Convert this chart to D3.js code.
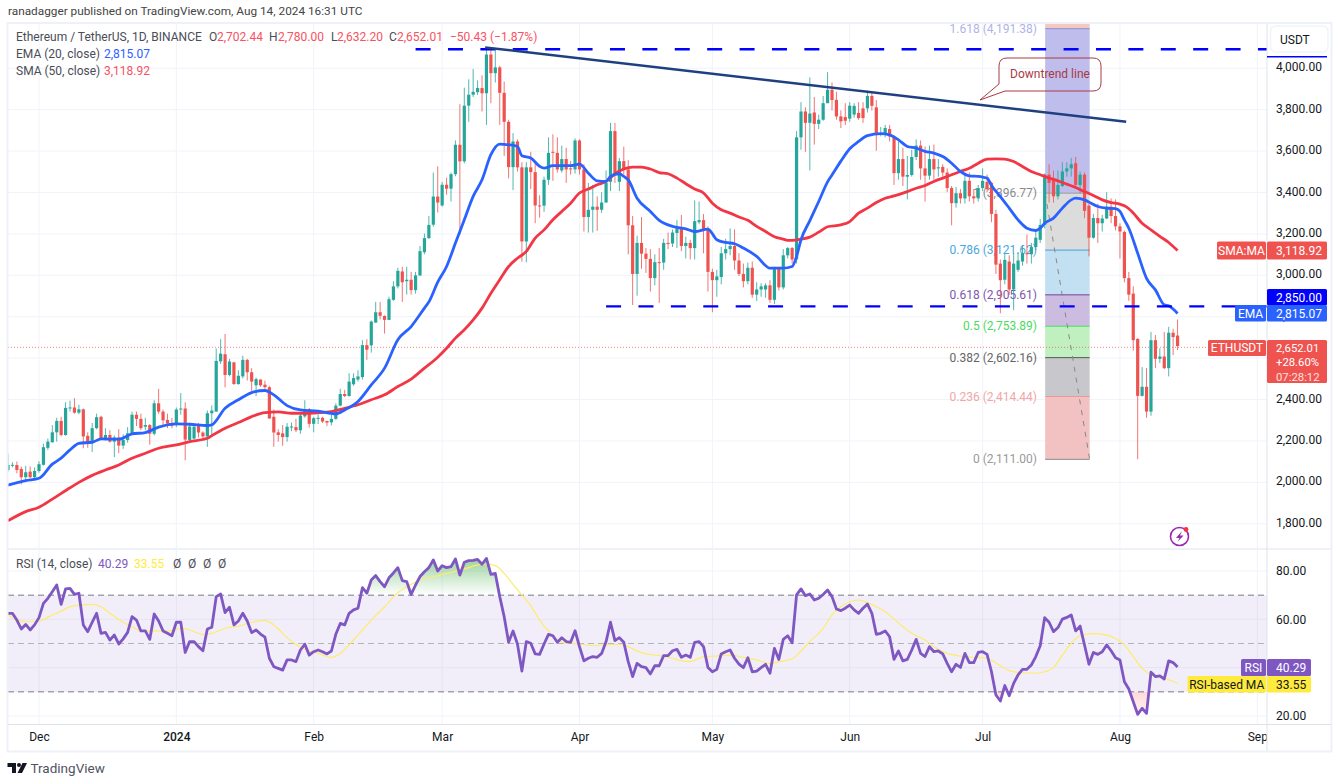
<!DOCTYPE html>
<html>
<head>
<meta charset="utf-8">
<title>ETHUSDT</title>
<script src="https://d3js.org/d3.v7.min.js"></script>
<style>
  html, body { margin: 0; padding: 0; background: #fff; }
  svg { display: block; }
  text { font-family: Roboto, sans-serif; }
</style>
</head>
<body>
<svg id="chart" width="1340" height="784"></svg>
<script>
// candles, one row per ten days, day 0 = 24 Nov 2023
const opens = [
  2053,2075,2077,2058,2018,2045,2018,2048,2078,2160,
  2187,2235,2290,2222,2352,2355,2330,2346,2218,2185,
  2255,2310,2206,2222,2190,2210,2171,2198,2230,2320,
  2300,2262,2270,2228,2375,2335,2295,2278,2270,2345,
  2350,2198,2205,2265,2234,2215,2327,2335,2578,2612,
  2512,2573,2468,2505,2585,2525,2462,2490,2465,2453,
  2310,2235,2230,2212,2260,2260,2245,2312,2345,2276,
  2300,2305,2290,2283,2300,2364,2420,2410,2467,2490,
  2502,2656,2655,2765,2815,2797,2778,2875,2940,3012,
  2965,2972,2922,2993,3105,3173,3238,3374,3331,3431,
  3412,3482,3624,3544,3813,3866,3878,3898,3873,4060,
  3970,3998,3875,3735,3516,3640,3515,3157,3515,3492,
  3331,3330,3455,3590,3585,3500,3555,3510,3505,3645,
  3505,3275,3310,3325,3310,3345,3445,3690,3445,3545,
  3505,3235,3000,3150,3098,3073,2980,3057,3055,3150,
  3147,3198,3220,3135,3150,3125,3250,3260,3215,3010,
  2970,2985,3100,3120,3135,3065,3000,2965,3030,2900,
  2925,2925,2945,2875,3030,2935,3090,3125,3070,3660,
  3785,3730,3780,3725,3745,3825,3890,3841,3761,3758,
  3750,3770,3778,3800,3800,3860,3805,3675,3672,3700,
  3664,3487,3555,3470,3478,3565,3620,3510,3475,3555,
  3510,3517,3490,3415,3342,3390,3365,3450,3375,3365,
  3415,3445,3440,3290,3050,2972,3060,2925,3020,3060,
  3100,3095,3130,3165,3237,3480,3460,3375,3425,3495,
  3510,3535,3430,3480,3330,3175,3270,3245,3268,3325,
  3280,3230,3203,2980,2905,2686,2411,2455,2335,2680,
  2590,2601,2545,2716,2702.44
];
const highs = [
  2131,2090,2094,2070,2073,2070,2065,2095,2180,2205,
  2270,2305,2310,2380,2388,2400,2368,2350,2235,2280,
  2325,2315,2255,2245,2220,2250,2225,2260,2335,2335,
  2325,2305,2275,2390,2445,2345,2325,2305,2355,2425,
  2380,2275,2275,2280,2240,2340,2365,2640,2685,2710,
  2590,2575,2535,2605,2590,2545,2500,2490,2485,2460,
  2345,2250,2270,2280,2282,2300,2325,2390,2352,2310,
  2320,2310,2290,2330,2375,2445,2440,2520,2520,2535,
  2680,2685,2775,2865,2865,2800,2890,2965,3030,3035,
  3035,3010,3010,3135,3195,3280,3490,3520,3445,3465,
  3490,3645,3820,3900,3940,3990,3935,3960,4095,4085,
  4085,4005,3930,3745,3680,3650,3540,3540,3590,3535,
  3380,3470,3660,3675,3660,3620,3610,3545,3655,3650,
  3530,3440,3430,3375,3395,3500,3730,3730,3560,3615,
  3550,3280,3185,3275,3125,3120,3095,3125,3170,3200,
  3215,3260,3285,3180,3165,3355,3350,3290,3230,3025,
  3020,3130,3170,3220,3215,3100,3050,3055,3060,2960,
  2955,2955,2970,3035,3035,3120,3130,3130,3690,3830,
  3805,3950,3855,3770,3860,3975,3925,3880,3790,3825,
  3830,3825,3830,3830,3885,3875,3840,3710,3720,3720,
  3670,3640,3610,3570,3600,3650,3645,3615,3620,3625,
  3555,3530,3510,3425,3420,3410,3480,3490,3410,3430,
  3510,3480,3445,3310,3070,3100,3090,3100,3105,3140,
  3190,3150,3215,3265,3485,3530,3500,3500,3540,3540,
  3560,3565,3495,3490,3340,3290,3340,3285,3395,3365,
  3360,3245,3210,3010,2940,2690,2550,2545,2720,2705,
  2640,2720,2745,2735,2780
];
const lows = [
  2045,2066,2037,1984,1997,2013,2012,2040,2075,2150,
  2185,2190,2215,2218,2335,2325,2322,2158,2160,2140,
  2250,2200,2195,2185,2115,2135,2155,2185,2225,2265,
  2245,2245,2175,2220,2325,2260,2255,2255,2260,2320,
  2100,2185,2200,2210,2200,2165,2215,2335,2565,2452,
  2505,2465,2465,2495,2485,2435,2410,2455,2445,2300,
  2165,2190,2170,2190,2240,2236,2228,2305,2258,2235,
  2275,2280,2265,2268,2295,2360,2405,2408,2460,2480,
  2490,2585,2620,2765,2780,2712,2778,2870,2930,2865,
  2900,2900,2905,2990,3095,3170,3228,3297,3325,3382,
  3350,3472,3190,3535,3735,3855,3865,3785,3720,3825,
  3925,3720,3570,3462,3405,3495,3060,3056,3410,3245,
  3272,3300,3430,3450,3490,3490,3440,3480,3485,3480,
  3205,3200,3200,3208,3295,3345,3400,3440,3400,3480,
  3095,2850,2895,3025,3005,2915,2945,2860,3020,3120,
  3130,3125,3110,3075,3070,3070,3240,3100,2915,2815,
  2890,2950,3070,3090,3020,2990,2935,2950,2885,2870,
  2890,2885,2860,2855,2920,2925,3075,3050,3050,3600,
  3590,3500,3625,3700,3740,3825,3790,3745,3705,3720,
  3735,3755,3745,3730,3780,3790,3595,3665,3660,3640,
  3430,3455,3425,3360,3470,3550,3455,3350,3455,3455,
  3470,3470,3395,3235,3320,3340,3340,3350,3340,3350,
  3400,3395,3250,3000,2810,2950,2900,2825,3010,3040,
  3050,3050,3115,3150,3220,3345,3345,3360,3420,3470,
  3470,3420,3390,3270,3085,3170,3150,3205,3265,3245,
  3210,3075,2960,2870,2630,2105,2408,2305,2315,2545,
  2570,2540,2505,2608,2632.2
];
const closes = [
  2077,2078,2053,2018,2042,2018,2048,2081,2163,2190,
  2235,2290,2222,2353,2355,2330,2346,2215,2182,2255,
  2308,2206,2222,2190,2210,2171,2198,2230,2320,2300,
  2255,2270,2228,2375,2335,2293,2278,2266,2345,2350,
  2200,2263,2262,2234,2215,2327,2340,2580,2615,2512,
  2577,2468,2508,2585,2525,2480,2492,2462,2453,2302,
  2234,2222,2212,2262,2263,2245,2316,2345,2276,2303,
  2305,2287,2282,2300,2364,2420,2410,2480,2497,2505,
  2656,2634,2770,2815,2798,2778,2878,2940,3015,2960,
  2972,2922,2993,3110,3173,3237,3374,3345,3431,3412,
  3482,3624,3544,3813,3866,3880,3898,3873,4060,3970,
  3998,3875,3735,3516,3640,3515,3157,3515,3492,3331,
  3330,3455,3585,3585,3505,3555,3505,3505,3645,3505,
  3275,3310,3325,3310,3345,3440,3690,3485,3545,3505,
  3235,3000,3150,3098,3073,2980,3057,3055,3150,3145,
  3200,3220,3135,3150,3125,3255,3260,3215,3010,2970,
  2988,3100,3120,3135,3065,3000,2965,3030,2900,2925,
  2940,2945,2875,3030,2935,3090,3125,3070,3660,3785,
  3730,3775,3725,3745,3825,3890,3840,3761,3737,3740,
  3813,3812,3753,3753,3860,3812,3672,3680,3705,3664,
  3487,3555,3470,3478,3565,3620,3510,3475,3555,3505,
  3515,3490,3415,3342,3390,3365,3450,3375,3365,3415,
  3450,3410,3290,3045,2970,3068,2925,3050,3065,3100,
  3095,3130,3175,3237,3480,3440,3375,3430,3495,3510,
  3530,3430,3480,3305,3175,3270,3245,3268,3325,3280,
  3230,3205,2980,2900,2680,2411,2455,2335,2680,2590,
  2601,2545,2716,2695,2652.01
];

// moving averages, read at the days listed
const emaDays = [0,4,7,10,12,14,16,19,21,25,28,31,34,38,41,45,46,49,52,55,58,60,63,66,70,74,76,79,82,85,88,91,94,95,97,99,101,103,105,107,109,111,113,115,116,118,120,121,123,127,129,131,133,135,136,138,139,140,142,145,147,150,153,155,158,160,162,164,166,169,172,175,177,178,179,181,183,185,186,188,190,192,194,197,199,201,203,205,207,209,211,213,215,217,219,220,221,222,224,226,228,230,232,233,234,236,238,240,241,243,244,246,248,250,251,252,253,255,257,259,261,262,264];
const emaValues = [1980,2002,2013,2081,2110,2150,2182,2187,2203,2202,2227,2234,2260,2276,2274,2268,2271,2351,2392,2427,2437,2416,2364,2343,2337,2324,2343,2384,2464,2545,2682,2746,2835,2865,2960,3036,3149,3262,3375,3455,3576,3627,3624,3616,3571,3560,3520,3511,3523,3523,3531,3487,3450,3447,3471,3484,3471,3455,3366,3302,3259,3230,3218,3205,3217,3165,3152,3146,3125,3085,3028,3028,3036,3085,3165,3258,3350,3445,3478,3545,3605,3640,3668,3678,3672,3648,3616,3608,3592,3584,3567,3535,3495,3474,3471,3468,3463,3427,3374,3318,3261,3221,3210,3221,3245,3270,3318,3358,3366,3358,3347,3326,3318,3316,3302,3261,3221,3100,2979,2923,2851,2846,2809];
const smaDays = [0,4,7,10,14,16,19,22,25,28,31,34,38,41,45,46,49,52,55,58,61,64,68,72,76,79,82,85,88,91,94,97,99,101,103,105,107,109,111,113,115,117,119,121,123,125,127,129,131,133,135,137,139,141,143,145,147,149,151,153,155,157,159,161,163,165,167,169,171,173,175,176,177,179,181,183,185,188,190,192,194,196,198,200,203,205,207,209,211,213,215,217,219,221,223,225,227,229,231,233,235,237,239,241,243,245,247,249,251,252,253,254,256,258,260,262,264];
const smaValues = [1808,1852,1873,1912,1967,1993,2027,2053,2077,2110,2134,2158,2174,2190,2206,2219,2255,2282,2311,2330,2334,2327,2327,2332,2351,2368,2392,2416,2456,2492,2545,2598,2641,2690,2730,2778,2835,2907,2972,3036,3076,3109,3173,3213,3262,3302,3342,3391,3410,3431,3447,3484,3507,3516,3516,3507,3490,3484,3463,3436,3410,3391,3342,3310,3294,3275,3259,3230,3205,3180,3168,3162,3162,3168,3178,3202,3228,3237,3253,3294,3318,3345,3366,3377,3398,3414,3427,3447,3463,3479,3495,3511,3535,3555,3556,3555,3543,3519,3495,3479,3463,3450,3434,3418,3398,3379,3358,3345,3337,3329,3315,3294,3245,3213,3182,3152,3113];

// RSI, one value per day
const rsiValues = [
  62.5,62.5,59.7,56,57.9,55.6,57.7,60.7,66.6,68.7,
  71.4,74.2,66.2,72.6,72.8,70.3,70.8,57.7,54.9,58.8,
  62.5,54.2,54.6,51.4,53.5,49.8,51.9,54.6,61.1,59.7,
  55.2,55.2,51.7,62.2,59.3,55.2,54.2,53.2,58.8,58.8,
  46.3,50.8,50.8,48.7,47,56,56.7,69.4,70.5,62.8,
  65,57.7,59.3,62.5,59.3,54.5,55.6,53.9,52.6,43.9,
  40.4,39.7,39,43.2,43.2,42.5,47.3,49.7,45.2,46.6,
  47.3,46.6,45.7,46.9,53.8,58.3,57.7,62.5,63.9,64.6,
  73.1,70.8,76.3,78.1,75.6,73.5,77.2,79.2,81.4,76,
  75.6,70.3,74.2,77.7,79.7,81.4,84.6,80,82.2,81.4,
  81.8,85,78.3,83.6,84.3,84.4,84.8,82.8,85.2,78.6,
  79,69.4,61.1,50.5,55.2,49.8,38.6,50.8,50.1,45.7,
  45.5,49.8,53.8,53.2,50.5,52.4,50.8,50.5,55.3,48.7,
  42.8,43.9,44.6,44.3,45.9,50.8,58.8,51.2,52.4,50.5,
  42.5,36.3,41.8,40.4,40,37.4,40.8,40.8,45,45,
  47,47.6,44.3,45.2,44.3,50.5,50.8,48.7,40.1,38.3,
  39.3,45.7,46.6,47.3,43.9,41.5,40,44.1,38.3,38.6,
  40,41.4,37.7,48,43.4,51.7,53.2,50.3,70.1,72.6,
  69.8,70.5,68,68.7,70.3,72.1,69.4,64.3,63.6,64.6,
  65.9,63.9,62.5,64.6,66.3,62.5,53.8,54.2,55.2,52.8,
  43.4,46.9,42.8,43.4,47.3,51.7,45.9,44.6,48.7,46.6,
  46.9,45.7,41.8,38.3,41.4,40.1,45.9,42.1,42.1,46.3,
  46.6,45.5,38.3,28.7,26.2,32.6,28.4,33.5,37,39.3,
  39.3,41.1,44.6,49.1,60.7,58.8,54.9,56.6,60.1,60.8,
  61.8,55.2,57.2,49.4,41.4,46.3,45.5,46.6,49.4,47,
  44.1,43.2,34.2,31.2,25.9,20.7,23.2,21.1,38.1,36.3,
  36.6,35.3,42.8,42.1,40.29
];
const rsiMaDays = [0,4,7,10,12,14,16,19,21,23,26,28,30,34,37,39,41,44,46,49,52,55,58,60,62,64,67,70,73,75,77,79,82,85,88,91,94,97,100,103,106,108,110,112,114,116,118,120,122,124,126,129,132,135,138,140,142,144,147,150,152,154,157,160,163,166,169,172,175,177,179,181,184,186,188,190,192,194,196,198,200,202,204,207,209,212,215,218,221,224,226,229,232,234,236,238,240,242,245,248,250,252,254,256,258,261,264];
const rsiMaValues = [61.8,59,59.3,61.8,63.4,65.2,65.9,66.2,65.2,62.5,58.8,57,55.3,55.2,55.3,56.3,55.6,53.8,54.2,56.3,57.2,58.8,59.6,57.7,54.2,50.8,47.6,45.9,44.3,45.9,49.4,53.5,59.7,65.2,71,74.5,77,78.1,79.4,80.8,82.5,82.8,82.2,79,74.5,70,65.7,59.7,55.2,51.4,50.1,49.8,49.1,49.4,49.7,48.7,46.9,45.7,45,43.9,42.8,42.5,44.6,44.8,45.2,44.3,43.2,41.7,42.8,43.6,46.9,50.8,56.3,61.8,65.2,67.3,68,66.9,65.2,63.2,60.1,57,54.2,51.4,48.7,45.9,44.8,44.3,43.9,40.8,38.8,37.9,37.7,38.3,40,45.2,50.1,53.2,54.1,53.5,52.1,49.4,44.6,39.7,37,35.6,33.55];

// axes
const priceTicks = [1800,2000,2200,2400,2600,2800,3000,3200,3400,3600,3800,4000];
const rsiTicks = [20,40,60,80];
const monthDays = [7,38,69,98,129,159,190,220,251,282];
const monthLabels = ["Dec","2024","Feb","Mar","Apr","May","Jun","Jul","Aug","Sep"];

// fib levels and drawn lines
const fibRatios = ["1.618","1","0.786","0.618","0.5","0.382","0.236","0"];
const fibPrices = [4191.38,3396.77,3121.62,2905.61,2753.89,2602.16,2414.44,2111];
const fibDays = [234,244];
const resistance = 4092;
const support = 2850;
const resistanceStart = 92;
const supportStart = 135;
const trendDays = [107.7,252.4];
const trendPrices = [4101,3742];

const paneL = 8, paneR = 1267, priceTop = 24, priceBottom = 548.5;
const rsiTop = 550, rsiBottom = 724.5;
const upColor = "#26a69a", downColor = "#ef5350", blue = "#2962ff", purple = "#7e57c2";
const gridColor = "#f0f3fa", labelColor = "#131722";

const svg = d3.select("#chart");
const defs = svg.append("defs");

const x = d3.scaleLinear().domain([0, 282]).range([8, 1257.3]);
const y = d3.scaleLinear().domain([1800, 4000]).range([523.7, 68.3]);
const rsiY = d3.scaleLinear().domain([20, 80]).range([716, 571]);
const days = closes.map((d, i) => i);

// the candle and average readings came out about 6.5 low against the axis
const readBias = 6.5;
const markY = v => y(v + readBias);

defs.append("clipPath").attr("id", "pricePane").append("rect")
  .attr("x", paneL).attr("y", priceTop).attr("width", paneR - paneL).attr("height", priceBottom - priceTop);
defs.append("clipPath").attr("id", "above70").append("rect")
  .attr("x", paneL).attr("y", rsiTop).attr("width", paneR - paneL).attr("height", rsiY(70) - rsiTop);
defs.append("clipPath").attr("id", "below30").append("rect")
  .attr("x", paneL).attr("y", rsiY(30)).attr("width", paneR - paneL).attr("height", rsiBottom - rsiY(30));

// grid
const grid = svg.append("g").attr("stroke", gridColor).attr("stroke-width", 1);
grid.selectAll(".gx").data(monthDays).enter().append("line")
  .attr("x1", d => x(d)).attr("x2", d => x(d)).attr("y1", priceTop).attr("y2", rsiBottom);
grid.selectAll(".gy").data(priceTicks).enter().append("line")
  .attr("x1", paneL).attr("x2", paneR).attr("y1", d => y(d)).attr("y2", d => y(d));
grid.selectAll(".gr").data(rsiTicks).enter().append("line")
  .attr("x1", paneL).attr("x2", paneR).attr("y1", d => rsiY(d)).attr("y2", d => rsiY(d));

// fib retracement, sits under the candles
const fibFills = ["#bfbdec","#dcdcdc","#c2e0f1","#ccbde0","#c0f0c0","#c8c8cc","#f2c2c2"];
const fibLines = ["#8f8fd8","#999999","#3fa3d9","#7040a0","#4cd964","#555555","#e89a9a","#888888"];
const fibText = ["#b0b3e6","#8a8a8a","#4aa8dc","#7e57a8","#4cd964","#666666","#f2a6a6","#999999"];
const fibL = x(fibDays[0]) + 0.5, fibR = x(fibDays[1]) + 0.7;
const fib = svg.append("g");
fib.append("rect").attr("x", fibL).attr("y", priceTop).attr("width", fibR - fibL)
  .attr("height", y(fibPrices[0]) - priceTop).attr("fill", "#f5c9c0");
fib.selectAll(".band").data(fibFills).enter().append("rect")
  .attr("x", fibL).attr("width", fibR - fibL)
  .attr("y", (d, i) => y(fibPrices[i]))
  .attr("height", (d, i) => y(fibPrices[i + 1]) - y(fibPrices[i]))
  .attr("fill", d => d);
fib.selectAll(".lvl").data(fibPrices).enter().append("line")
  .attr("x1", fibL).attr("x2", fibR)
  .attr("y1", d => y(d)).attr("y2", d => y(d))
  .attr("stroke", (d, i) => fibLines[i]).attr("stroke-width", 1);
fib.selectAll(".lbl").data(fibPrices).enter().append("text")
  .attr("x", 1037).attr("y", d => y(d) + 4)
  .attr("text-anchor", "end").attr("font-size", 12)
  .attr("fill", (d, i) => fibText[i])
  .text((d, i) => fibRatios[i] + " (" + d3.format(",.2f")(d) + ")");
fib.append("line")
  .attr("x1", fibL).attr("y1", y(fibPrices[1]))
  .attr("x2", fibR).attr("y2", y(fibPrices[7]))
  .attr("stroke", "#888").attr("stroke-width", 1).attr("stroke-dasharray", "5 6");

// last price dotted line
svg.append("line")
  .attr("x1", paneL).attr("x2", paneR)
  .attr("y1", y(closes[264])).attr("y2", y(closes[264]))
  .attr("stroke", downColor).attr("stroke-width", 1).attr("stroke-dasharray", "1 2").attr("opacity", 0.7);

// candles
const candles = svg.append("g").attr("clip-path", "url(#pricePane)");
candles.selectAll(".wick").data(days).enter().append("line")
  .attr("x1", d => x(d)).attr("x2", d => x(d))
  .attr("y1", d => markY(highs[d])).attr("y2", d => markY(lows[d]))
  .attr("stroke", d => closes[d] >= opens[d] ? upColor : downColor)
  .attr("stroke-width", 1).attr("stroke-opacity", 0.8);
candles.selectAll(".body").data(days).enter().append("rect")
  .attr("x", d => x(d) - 1.6).attr("width", 3.2)
  .attr("y", d => markY(Math.max(opens[d], closes[d])))
  .attr("height", d => Math.max(1, Math.abs(markY(opens[d]) - markY(closes[d]))))
  .attr("fill", d => closes[d] >= opens[d] ? upColor : downColor);

// moving averages
const ma = d3.line().curve(d3.curveMonotoneX).x(d => x(d[0])).y(d => markY(d[1]));
svg.append("path").attr("d", ma(d3.zip(smaDays, smaValues)))
  .attr("fill", "none").attr("stroke", "#f23645").attr("stroke-width", 2.8).attr("stroke-linejoin", "round");
svg.append("path").attr("d", ma(d3.zip(emaDays, emaValues)))
  .attr("fill", "none").attr("stroke", blue).attr("stroke-width", 2.8).attr("stroke-linejoin", "round");

// support / resistance and the downtrend line
svg.append("line")
  .attr("x1", x(resistanceStart)).attr("x2", paneR).attr("y1", y(resistance)).attr("y2", y(resistance))
  .attr("stroke", "#0000ff").attr("stroke-width", 2.4).attr("stroke-dasharray", "15 17.4");
svg.append("line")
  .attr("x1", x(supportStart)).attr("x2", paneR).attr("y1", y(support)).attr("y2", y(support))
  .attr("stroke", "#0000ff").attr("stroke-width", 2.4).attr("stroke-dasharray", "15 17.4");
svg.append("line")
  .attr("x1", x(trendDays[0])).attr("x2", x(trendDays[1]))
  .attr("y1", y(trendPrices[0])).attr("y2", y(trendPrices[1]))
  .attr("stroke", "#1f4080").attr("stroke-width", 2.5);

// callout
svg.append("path")
  .attr("d", "M1007 58H1093Q1101 58 1101 66V83Q1101 91 1093 91H1005L980 100L999 84V66Q999 58 1007 58Z")
  .attr("fill", "none").attr("stroke", "#a83a45").attr("stroke-width", 1);
svg.append("text").attr("x", 1050).attr("y", 77.5).attr("text-anchor", "middle").attr("font-size", 12)
  .attr("fill", "#a83a45").text("Downtrend line");

// RSI pane
svg.append("rect").attr("x", paneL).attr("width", paneR - paneL)
  .attr("y", rsiY(70)).attr("height", rsiY(30) - rsiY(70))
  .attr("fill", purple).attr("opacity", 0.1);

const green = defs.append("linearGradient").attr("id", "obFill").attr("gradientUnits", "userSpaceOnUse")
  .attr("x1", 0).attr("x2", 0).attr("y1", rsiY(85)).attr("y2", rsiY(70));
green.append("stop").attr("offset", 0).attr("stop-color", "#4caf50").attr("stop-opacity", 0.55);
green.append("stop").attr("offset", 1).attr("stop-color", "#4caf50").attr("stop-opacity", 0);
const red = defs.append("linearGradient").attr("id", "osFill").attr("gradientUnits", "userSpaceOnUse")
  .attr("x1", 0).attr("x2", 0).attr("y1", rsiY(30)).attr("y2", rsiY(20));
red.append("stop").attr("offset", 0).attr("stop-color", "#ff5252").attr("stop-opacity", 0.22);
red.append("stop").attr("offset", 1).attr("stop-color", "#ff5252").attr("stop-opacity", 0.05);

const obArea = d3.area().x((d, i) => x(i)).y0(rsiY(70)).y1(d => rsiY(d));
const osArea = d3.area().x((d, i) => x(i)).y0(rsiY(30)).y1(d => rsiY(d));
svg.append("path").attr("d", obArea(rsiValues)).attr("fill", "url(#obFill)").attr("clip-path", "url(#above70)");
svg.append("path").attr("d", osArea(rsiValues)).attr("fill", "url(#osFill)").attr("clip-path", "url(#below30)");

svg.selectAll(".rsiBand").data([70, 50, 30]).enter().append("line")
  .attr("x1", paneL).attr("x2", paneR).attr("y1", d => rsiY(d)).attr("y2", d => rsiY(d))
  .attr("stroke", d => d === 50 ? "#b2b5be" : "#787b86").attr("stroke-width", 1).attr("stroke-dasharray", "6 4");

svg.append("path")
  .attr("d", d3.line().x(d => x(d[0])).y(d => rsiY(d[1])).curve(d3.curveMonotoneX)(d3.zip(rsiMaDays, rsiMaValues)))
  .attr("fill", "none").attr("stroke", "#ffeb6b").attr("stroke-width", 1.2);
svg.append("path")
  .attr("d", d3.line().x((d, i) => x(i)).y(d => rsiY(d))(rsiValues))
  .attr("fill", "none").attr("stroke", purple).attr("stroke-width", 2.8).attr("stroke-linejoin", "round");

// time axis
const timeAxis = d3.axisBottom(x).tickValues(monthDays).tickSize(0).tickPadding(8)
  .tickFormat(d => monthLabels[monthDays.indexOf(d)]);
const timeG = svg.append("g").attr("transform", "translate(0," + rsiBottom + ")").call(timeAxis);
timeG.select(".domain").remove();
timeG.selectAll("text").attr("font-size", 12).attr("font-family", "Roboto, sans-serif").attr("fill", labelColor)
  .attr("font-weight", d => d === 38 ? 500 : 400);

// right hand column
svg.append("rect").attr("x", paneR).attr("y", priceTop).attr("width", 1331 - paneR).attr("height", 727).attr("fill", "#fff");

const priceAxis = d3.axisRight(y).tickValues(priceTicks).tickSize(0).tickPadding(9).tickFormat(d3.format(",.2f"));
const priceG = svg.append("g").attr("transform", "translate(" + paneR + ",0)").call(priceAxis);
priceG.select(".domain").remove();
const rsiAxis = d3.axisRight(rsiY).tickValues(rsiTicks).tickSize(0).tickPadding(9).tickFormat(d3.format(".2f"));
const rsiG = svg.append("g").attr("transform", "translate(" + paneR + ",0)").call(rsiAxis);
rsiG.select(".domain").remove();
svg.selectAll(".tick text").attr("font-size", 12).attr("font-family", "Roboto, sans-serif").attr("fill", labelColor);
priceG.selectAll("text").attr("dy", "0.22em");

// pane frame and separators
const frame = svg.append("g").attr("stroke", "#eef1f7").attr("fill", "none");
frame.append("rect").attr("x", 7.5).attr("y", 23).attr("width", 1324).attr("height", 728.5).attr("stroke-width", 2);
frame.append("line").attr("x1", paneL).attr("x2", 1331).attr("y1", 549).attr("y2", 549).attr("stroke-width", 2);
frame.append("line").attr("x1", paneL).attr("x2", 1331).attr("y1", rsiBottom).attr("y2", rsiBottom).attr("stroke", "#dfe2ea");
frame.append("line").attr("x1", paneR).attr("x2", paneR).attr("y1", 24).attr("y2", 751).attr("stroke", "#dfe2ea");

function tag(x0, y0, w, h, fill, label, color, anchor) {
  svg.append("rect").attr("x", x0).attr("y", y0).attr("width", w).attr("height", h).attr("fill", fill).attr("rx", 1.5);
  svg.append("text").attr("x", anchor === "middle" ? x0 + w / 2 : x0 + 9).attr("y", y0 + h / 2 + 4.3)
    .attr("text-anchor", anchor || "start").attr("font-size", 12).attr("fill", color).text(label);
}

// USDT button and the level mark under it
svg.append("rect").attr("x", 1270.5).attr("y", 26).attr("width", 57.5).attr("height", 26).attr("rx", 5)
  .attr("fill", "#fff").attr("stroke", "#f0f3fa").attr("stroke-width", 1.5);
svg.append("text").attr("x", 1280).attr("y", 44).attr("font-size", 12).attr("fill", labelColor).text("USDT");
svg.append("line").attr("x1", paneR).attr("x2", 1327).attr("y1", 56.7).attr("y2", 56.7)
  .attr("stroke", "#0000ff").attr("stroke-width", 1.5);

tag(1217, 241.5, 49, 18, downColor, "SMA:MA", "#fff", "middle");
tag(paneR, 241.5, 60, 18, downColor, "3,118.92", "#fff");
tag(paneR, 289, 60, 16.5, "#0000ff", "2,850.00", "#fff");
tag(1235, 305, 31, 16.5, blue, "EMA", "#fff", "middle");
tag(paneR, 305, 60, 16.5, blue, "2,815.07", "#fff");
tag(1208, 340, 58, 16, downColor, "ETHUSDT", "#fff", "middle");
svg.append("rect").attr("x", paneR).attr("y", 340).attr("width", 60).attr("height", 43).attr("fill", downColor).attr("rx", 1.5);
[["2,652.01", 351.5, "#fff"], ["+28.60%", 366, "#fff"], ["07:28:12", 380.5, "#ffe0de"]].forEach(d => {
  svg.append("text").attr("x", paneR + 9).attr("y", d[1]).attr("font-size", 11.3).attr("fill", d[2]).text(d[0]);
});
tag(1241, 659, 25, 17, purple, "RSI", "#fff", "middle");
tag(paneR, 659, 44, 17, purple, "40.29", "#fff");
tag(1187.5, 676, 78.5, 16.5, "#ffeb3b", "RSI-based MA", labelColor, "middle");
tag(paneR, 676, 44, 16.5, "#ffeb3b", "33.55", labelColor);

// legend text
function label(x0, y0, str, color, size) {
  return svg.append("text").attr("x", x0).attr("y", y0).attr("font-size", size || 12).attr("fill", color).text(str);
}
const legendGrey = "#4a4d57";
label(8, 14.5, "ranadagger published on TradingView.com, Aug 14, 2024 16:31 UTC", "#444", 11.8);
label(16, 41, "Ethereum / TetherUS, 1D, BINANCE", legendGrey);
[[209, "O", 217, "2,702.44"], [269, "H", 278, "2,780.00"], [331, "L", 337, "2,632.20"], [389, "C", 397, "2,652.01"]].forEach(d => {
  label(d[0], 41, d[1], legendGrey);
  label(d[2], 41, d[3], "#f7525f");
});
label(450, 41, "\u221250.43 (\u22121.87%)", "#f7525f");
label(16, 58, "EMA (20, close)", legendGrey);
label(104, 58, "2,815.07", blue);
label(16, 75, "SMA (50, close)", legendGrey);
label(104, 75, "3,118.92", "#f7525f");
label(16, 568, "RSI (14, close)", legendGrey);
label(98, 568, "40.29", purple);
label(134, 568, "33.55", "#ffeb3b");
[173, 188, 203, 218].forEach(d => label(d, 568, "\u00d8", legendGrey));

// bolt icon
svg.append("circle").attr("cx", 1179.5).attr("cy", 536.5).attr("r", 9).attr("fill", "#fff").attr("stroke", "#9c27b0").attr("stroke-width", 1.6);
svg.append("path").attr("d", "M1182 531L1176 538H1179.5L1177.5 542L1183.5 535.5H1180Z").attr("fill", "#9c27b0");
svg.append("circle").attr("cx", 1186).attr("cy", 529.5).attr("r", 2.4).attr("fill", "#f23645");

// TradingView mark
svg.append("path").attr("d", "M7.5 763H16V773H12V767H7.5Z M22.5 763H27L22 773H17.5Z").attr("fill", "#131722");
svg.append("circle").attr("cx", 19).attr("cy", 765).attr("r", 2).attr("fill", "#131722");
label(30.5, 773, "TradingView", "#50535e", 13.5);
</script>
</body>
</html>
